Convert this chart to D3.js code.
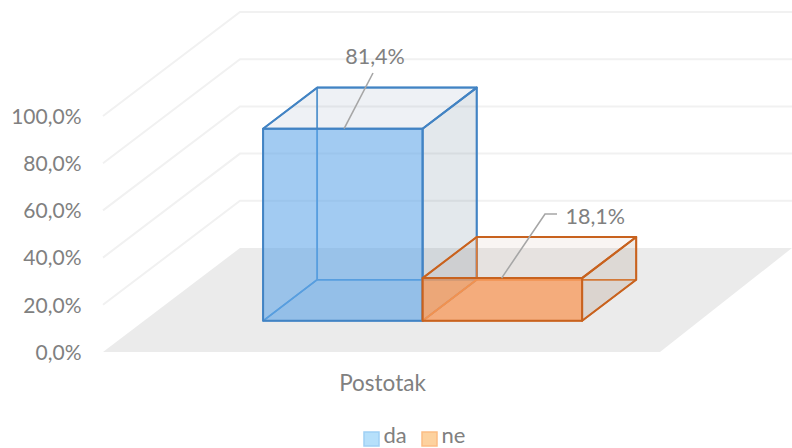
<!DOCTYPE html>
<html><head><meta charset="utf-8">
<script src="https://cdnjs.cloudflare.com/ajax/libs/d3/7.8.5/d3.min.js"></script>
<style>html,body{margin:0;padding:0;background:#fff}svg{display:block}text{font-family:Lato,"Open Sans",sans-serif;fill:#808080}</style>
</head><body><svg id="c" width="792" height="448"></svg>
<script>
const categories = ["Postotak"];
const seriesNames = ["da", "ne"];
const seriesValues = [81.4, 18.1];
const tickValues = [0, 20, 40, 60, 80, 100];
const labelText = ["81,4%", "18,1%"];
const tickFmt = v => d3.format(".1f")(v).replace(".", ",") + "%";

const fills = {
  da: {front:"rgba(85,160,232,0.55)", bottom:"rgba(70,130,190,0.06)", right:"rgba(68,100,130,0.15)", top:"rgba(68,100,140,0.09)", stroke:"#4283c3", inner:"#5b9bd5", swatch:"#b6e0fb", swatchStroke:"#9fd0f5"},
  ne: {front:"rgba(247,152,88,0.75)", bottom:"rgba(200,110,50,0.03)", right:"rgba(110,70,40,0.11)", top:"rgba(150,90,50,0.06)", stroke:"#c8621e", inner:"#e07f3b", swatch:"#fdd29f", swatchStroke:"#fbbd84"}
};

const svg = d3.select("#c");
const yH = d3.scaleLinear().domain([0,100]).range([0,236]);
const dx = d3.scaleLinear().domain([0,1]).range([0,137]);
const dy = d3.scaleLinear().domain([0,1]).range([0,104]);
const floorY = 352, floorL = 103, floorR = 660, gridR = 792;
const P = (x,v,d) => [x + dx(d), floorY - yH(v) - dy(d)];
const poly = pts => pts.map(p=>p.join(",")).join(" ");

// floor
svg.append("polygon").attr("points",poly([P(floorL,0,0),P(floorL,0,1),[gridR,floorY-dy(1)],P(floorR,0,0)])).attr("fill","#ebebeb");

// gridlines
const grid = svg.append("g").attr("fill","none").attr("stroke","#f1f1f1").attr("stroke-width",2);
grid.selectAll("polyline").data(tickValues.slice(1)).join("polyline")
  .attr("points",v=>poly([P(floorL,v,0),P(floorL,v,1),[gridR,floorY-yH(v)-dy(1)]]));

// tick labels
svg.append("g").selectAll("text").data(tickValues).join("text")
  .attr("x",81.5).attr("y",v=>floorY-yH(v)+7.7).attr("text-anchor","end").attr("font-size",21).text(tickFmt);

// bars
const x = d3.scaleBand().domain(seriesNames).range([222,541]).padding(0);
const d0 = 0.3, d1 = 0.695;
seriesNames.forEach((s,i)=>{
  const f = fills[s], v = seriesValues[i], a = x(s), b = a + x.bandwidth();
  const g = svg.append("g").attr("stroke-linejoin","round");
  const face = (pts,fill,stroke,w) => g.append("polygon").attr("points",poly(pts)).attr("fill",fill).attr("stroke",stroke||"none").attr("stroke-width",w||0);
  face([P(a,0,d0),P(a,0,d1),P(b,0,d1),P(b,0,d0)],f.bottom,f.inner,1.6);
  face([P(a,0,d1),P(a,v,d1),P(b,v,d1),P(b,0,d1)],"none",f.inner,1.6);
  face([P(a,0,d0),P(a,0,d1),P(a,v,d1),P(a,v,d0)],"none",f.inner,1.6);
  face([P(b,0,d0),P(b,0,d1),P(b,v,d1),P(b,v,d0)],f.right,f.stroke,2);
  face([P(a,v,d0),P(a,v,d1),P(b,v,d1),P(b,v,d0)],f.top,f.stroke,2);
  face([P(a,0,d0),P(a,v,d0),P(b,v,d0),P(b,0,d0)],f.front,f.stroke,2);
});

// data labels and leaders
const leaders = [
  {start:P(x("da")+81,seriesValues[0],d0), pts:[[373,73]], tx:375, ty:63.5, anchor:"middle"},
  {start:P(x("ne")+79,seriesValues[1],d0), pts:[[545,214],[557,214]], tx:565.5, ty:223.5, anchor:"start"}
];
leaders.forEach((l,i)=>{
  svg.append("polyline").attr("points",poly([l.start,...l.pts])).attr("fill","none").attr("stroke","#a6a6a6").attr("stroke-width",1.6);
  svg.append("text").attr("x",l.tx).attr("y",l.ty).attr("text-anchor",l.anchor).attr("font-size",21.5).text(labelText[i]);
});

// category label
svg.append("text").attr("x",382.5).attr("y",391).attr("text-anchor","middle").attr("font-size",22.5).text(categories[0]);

// legend
const legendX = d3.scaleOrdinal().domain(seriesNames).range([364,422]);
seriesNames.forEach(s=>{
  svg.append("rect").attr("x",legendX(s)).attr("y",432).attr("width",15).attr("height",14)
    .attr("fill",fills[s].swatch).attr("stroke",fills[s].swatchStroke).attr("stroke-width",1.5);
  svg.append("text").attr("x",legendX(s)+19.5).attr("y",443.3).attr("font-size",22).text(s);
});
</script></body></html>
